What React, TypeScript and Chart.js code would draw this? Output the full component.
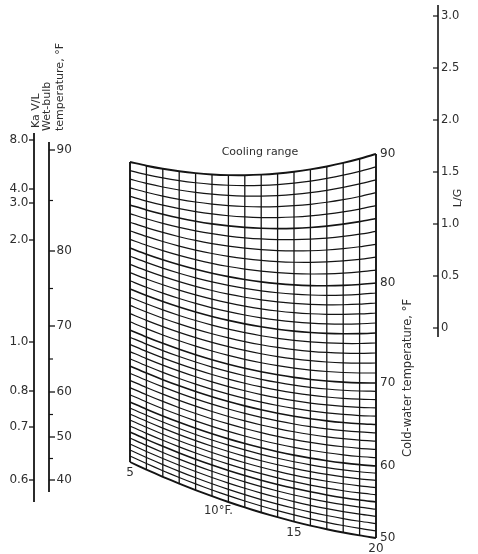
import React, { useEffect, useRef } from "react";
import { Chart, registerables } from "chart.js";

Chart.register(...registerables);

// ---------------- data ----------------
const coolingRanges = [5, 6, 7, 8, 9, 10, 11, 12, 13, 14, 15, 16, 17, 18, 19, 20];
const rangeLabelValues = [5, 10, 15, 20];
const rangeLabelTexts = ["5", "10°F.", "15", "20"];
const coldWaterTemps = [
  50, 51, 52, 53, 54, 55, 56, 57, 58, 59, 60, 61, 62, 63, 64, 65, 66, 67, 68, 69, 70,
  71, 72, 73, 74, 75, 76, 77, 78, 79, 80, 81, 82, 83, 84, 85, 86, 87, 88, 89, 90,
];
const coldWaterLabelValues = [90, 80, 70, 60, 50];
const wetBulbMajor = [90, 80, 70, 60, 50, 40];
const wetBulbMinor = [85, 75, 65, 55, 45];
const kavlTicks = [8.0, 4.0, 3.0, 2.0, 1.0, 0.8, 0.7, 0.6];
const kavlTickLabels = ["8.0", "4.0", "3.0", "2.0", "1.0", "0.8", "0.7", "0.6"];
const lgTicks = [0, 0.5, 1.0, 1.5, 2.0, 2.5, 3.0];
const lgTickLabels = ["0", "0.5", "1.0", "1.5", "2.0", "2.5", "3.0"];

// ------------- nomograph scale calibrations (layout) -------------
const KAVL_CAL: number[][] = [[0.6, 480], [0.7, 427], [0.8, 391], [1.0, 342], [2.0, 240], [3.0, 203], [4.0, 189], [8.0, 140]];
const WB_CAL: number[][] = [[40, 480], [50, 437], [60, 392], [70, 326], [80, 251], [90, 150]];
const GRID_LEFT: number[][] = [[50, 462], [60, 402], [70, 330], [80, 248], [90, 162]];
const GRID_RIGHT: number[][] = [[50, 538], [60, 466], [70, 383], [80, 283], [90, 154]];
const GRID_X0 = 130;
const GRID_X1 = 376;
const SAG_LOW = 10;
const SAG_HIGH = 17;
const LG_Y0 = 328;
const LG_Y3 = 16;

const W = 478;
const H = 554;
const INK = "#141414";
const TEXT = "#2e2e2e";
const FONT = '"DejaVu Sans", "Liberation Sans", sans-serif';

function interp(cal: number[][], v: number): number {
  for (let i = 0; i < cal.length - 1; i++) {
    const [a, ya] = cal[i];
    const [b, yb] = cal[i + 1];
    if (v >= a && v <= b) return ya + ((v - a) / (b - a)) * (yb - ya);
  }
  return v < cal[0][0] ? cal[0][1] : cal[cal.length - 1][1];
}

const rMin = coolingRanges[0];
const rMax = coolingRanges[coolingRanges.length - 1];
const tMin = coldWaterTemps[0];
const tMax = coldWaterTemps[coldWaterTemps.length - 1];

function gridX(r: number) {
  return GRID_X0 + ((r - rMin) / (rMax - rMin)) * (GRID_X1 - GRID_X0);
}
function gridY(t: number, r: number) {
  const u = (r - rMin) / (rMax - rMin);
  const yl = interp(GRID_LEFT, t);
  const yr = interp(GRID_RIGHT, t);
  const sag = SAG_LOW + ((t - tMin) / (tMax - tMin)) * (SAG_HIGH - SAG_LOW);
  return (1 - u) * yl + u * yr + sag * 4 * u * (1 - u);
}
function lgY(v: number) {
  return LG_Y0 + (v / 3) * (LG_Y3 - LG_Y0);
}

const nomoPlugin = {
  id: "nomo",
  afterDatasetsDraw(chart: any) {
    const ctx = chart.ctx as CanvasRenderingContext2D;
    const sx = chart.scales.x;
    const sy = chart.scales.y;
    const px = (x: number) => sx.getPixelForValue(x);
    const py = (y: number) => sy.getPixelForValue(y);

    const line = (x1: number, y1: number, x2: number, y2: number, w: number) => {
      ctx.beginPath();
      ctx.lineWidth = w;
      ctx.strokeStyle = INK;
      ctx.moveTo(px(x1), py(y1));
      ctx.lineTo(px(x2), py(y2));
      ctx.stroke();
    };
    const text = (s: string, x: number, y: number, align: CanvasTextAlign, size: number) => {
      ctx.font = `${size}px ${FONT}`;
      ctx.fillStyle = TEXT;
      ctx.textAlign = align;
      ctx.textBaseline = "middle";
      ctx.fillText(s, px(x), py(y));
    };
    const vtext = (s: string, x: number, y: number, align: CanvasTextAlign, size: number) => {
      ctx.save();
      ctx.translate(px(x), py(y));
      ctx.rotate(-Math.PI / 2);
      ctx.font = `${size}px ${FONT}`;
      ctx.fillStyle = TEXT;
      ctx.textAlign = align;
      ctx.textBaseline = "middle";
      ctx.fillText(s, 0, 0);
      ctx.restore();
    };

    ctx.save();
    // Ka V/L axis
    const kx = 34;
    line(kx, 133, kx, 502, 1.8);
    kavlTicks.forEach((v, i) => {
      const y = interp(KAVL_CAL, v);
      line(kx - 5, y, kx, y, 1.3);
      text(kavlTickLabels[i], kx - 5.5, y, "right", 12);
    });

    // Wet-bulb axis
    const wx = 49;
    line(wx, 142, wx, 492, 1.8);
    wetBulbMajor.forEach((v) => {
      const y = interp(WB_CAL, v);
      line(wx, y, wx + 6, y, 1.3);
      text(String(v), wx + 7.5, y, "left", 12);
    });
    wetBulbMinor.forEach((v) => {
      const y = interp(WB_CAL, v);
      line(wx, y, wx + 4, y, 1.2);
    });

    vtext("Ka V/L", 36, 128, "left", 11);
    vtext("Wet-bulb", 47, 131, "left", 11);
    vtext("temperature, °F", 60, 131, "left", 11);

    // L/G axis
    const lx = 438;
    line(lx, 5, lx, 337, 1.6);
    lgTicks.forEach((v, i) => {
      const y = lgY(v);
      line(lx - 5, y, lx, y, 1.2);
      text(lgTickLabels[i], lx + 3, y, "left", 11.5);
    });
    vtext("L/G", 458, 198, "center", 11);

    // Grid labels
    text("Cooling range", 260, 152, "center", 11);
    coldWaterLabelValues.forEach((t) => {
      text(String(t), gridX(rMax) + 4, gridY(t, rMax), "left", 12);
    });
    vtext("Cold-water temperature, °F", 408, 378, "center", 11.5);
    rangeLabelValues.forEach((r, i) => {
      const s = rangeLabelTexts[i];
      const yb = gridY(tMin, r);
      if (s.length > 2) text(s, gridX(r) - 8, yb + 15, "left", 11.5);
      else text(s, gridX(r), yb + 11, "center", 12);
    });
    ctx.restore();
  },
};

export default function App() {
  const ref = useRef<HTMLCanvasElement | null>(null);

  useEffect(() => {
    if (!ref.current) return;
    const datasets: any[] = [];
    coldWaterTemps.forEach((t) => {
      const edge = t === tMin || t === tMax;
      datasets.push({
        data: coolingRanges.map((r) => ({ x: gridX(r), y: gridY(t, r) })),
        borderColor: INK,
        borderWidth: edge ? 1.9 : t % 5 === 0 ? 1.6 : 1.2,
        showLine: true,
        pointRadius: 0,
        tension: 0.3,
        fill: false,
      });
    });
    coolingRanges.forEach((r) => {
      const edge = r === rMin || r === rMax;
      datasets.push({
        data: coldWaterTemps.map((t) => ({ x: gridX(r), y: gridY(t, r) })),
        borderColor: INK,
        borderWidth: edge ? 1.9 : 1.3,
        showLine: true,
        pointRadius: 0,
        tension: 0,
        fill: false,
      });
    });

    const chart = new Chart(ref.current, {
      type: "scatter",
      data: { datasets },
      options: {
        animation: false,
        responsive: false,
        maintainAspectRatio: false,
        layout: { padding: 0 },
        plugins: { legend: { display: false }, tooltip: { enabled: false } },
        events: [],
        scales: {
          x: { type: "linear", min: 0, max: W, display: false },
          y: { type: "linear", min: 0, max: H, reverse: true, display: false },
        },
      },
      plugins: [nomoPlugin],
    });
    return () => chart.destroy();
  }, []);

  return (
    <div style={{ position: "absolute", left: 0, top: 0, width: W, height: H, background: "#fff" }}>
      <canvas ref={ref} width={W} height={H} style={{ display: "block", width: W, height: H }} />
    </div>
  );
}
